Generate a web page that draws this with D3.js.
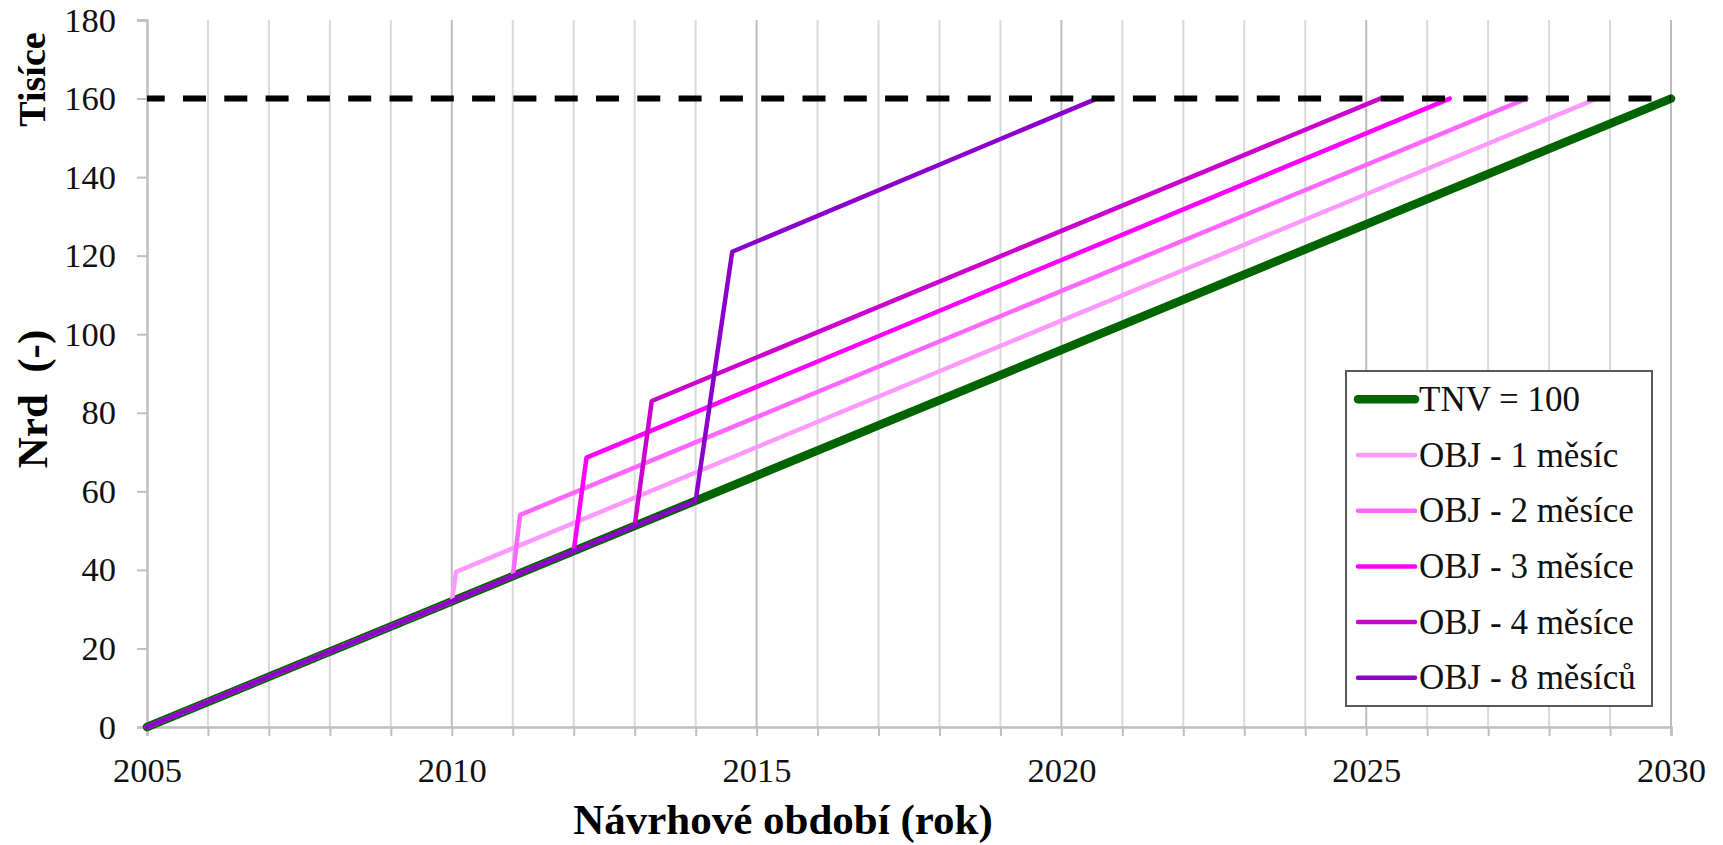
<!DOCTYPE html>
<html>
<head>
<meta charset="utf-8">
<script src="https://cdn.jsdelivr.net/npm/d3@7"></script>
<style>
  html, body { margin: 0; padding: 0; background: #fff; }
  svg { display: block; font-family: "Liberation Serif", "Times New Roman", serif; }
</style>
</head>
<body>
<svg id="chart" width="1723" height="845"></svg>
<script>
// Design-period cumulative counts (thousands), year vs. value.
const yearTicks = d3.range(2005, 2031);
const yearLabels = [2005, 2010, 2015, 2020, 2025, 2030];
const valueTicks = [0, 20, 40, 60, 80, 100, 120, 140, 160, 180];
const limitValue = 160;

const seriesNames = ["TNV = 100", "OBJ - 1 měsíc", "OBJ - 2 měsíce", "OBJ - 3 měsíce", "OBJ - 4 měsíce", "OBJ - 8 měsíců"];
const seriesColors = ["#006400", "#ff99ff", "#ff66ff", "#ff00ff", "#cc00cc", "#8c00cc"];
const seriesWidths = [8.5, 4.5, 4.5, 4.5, 4.5, 4.5];

const tnv  = [[2005, 0], [2030, 160]];
const obj1 = [[2005, 0], [2010, 32.0], [2010.07, 39.5], [2028.78, 160]];
const obj2 = [[2005, 0], [2011, 38.4], [2011.12, 54.0], [2027.63, 160]];
const obj3 = [[2005, 0], [2012, 44.8], [2012.21, 68.6], [2026.37, 160]];
const obj4 = [[2005, 0], [2013, 51.2], [2013.28, 83.0], [2025.23, 160]];
const obj8 = [[2005, 0], [2014, 57.6], [2014.60, 121.0], [2020.58, 160]];
const seriesData = [tnv, obj1, obj2, obj3, obj4, obj8];

const svg = d3.select("#chart");
const x = d3.scaleLinear().domain([2005, 2030]).range([147, 1671]);
const y = d3.scaleLinear().domain([0, 180]).range([727, 20]);

// vertical year gridlines
svg.append("g").selectAll("line")
  .data(yearTicks.slice(1))
  .join("line")
  .attr("x1", d => x(d)).attr("x2", d => x(d))
  .attr("y1", y(180)).attr("y2", y(0))
  .attr("stroke", d => d % 5 === 0 ? "#bdbdbd" : "#d9d9d9")
  .attr("stroke-width", 2);

// x axis
const xAxis = svg.append("g")
  .attr("transform", `translate(0,${y(0)})`)
  .call(d3.axisBottom(x).tickValues(yearTicks).tickSize(9).tickPadding(21.5)
    .tickFormat(d => yearLabels.includes(d) ? String(d) : ""));
xAxis.select(".domain").attr("stroke", "#bfbfbf").attr("stroke-width", 2.5);
xAxis.selectAll(".tick line").attr("stroke", "#bfbfbf").attr("stroke-width", 2);
xAxis.selectAll(".tick text").attr("font-size", 34.5).attr("fill", "#111")
  .attr("font-family", "Liberation Serif");

// y axis
const yAxis = svg.append("g")
  .attr("transform", `translate(${x(2005)},0)`)
  .call(d3.axisLeft(y).tickValues(valueTicks).tickSize(10).tickPadding(21).tickFormat(d => String(d)));
yAxis.select(".domain").attr("stroke", "#bfbfbf").attr("stroke-width", 2.5);
yAxis.selectAll(".tick line").attr("stroke", "#bfbfbf").attr("stroke-width", 2);
yAxis.selectAll(".tick text").attr("font-size", 34.5).attr("fill", "#111")
  .attr("font-family", "Liberation Serif");

// series lines
const line = d3.line().x(d => x(d[0])).y(d => y(d[1]));
svg.append("g").selectAll("path")
  .data(seriesData)
  .join("path")
  .attr("d", line)
  .attr("fill", "none")
  .attr("stroke", (d, i) => seriesColors[i])
  .attr("stroke-width", (d, i) => seriesWidths[i])
  .attr("stroke-linejoin", "round")
  .attr("stroke-linecap", "round");

// limit line
svg.append("line")
  .attr("x1", x(2005)).attr("x2", x(2030))
  .attr("y1", y(limitValue)).attr("y2", y(limitValue))
  .attr("stroke", "#000")
  .attr("stroke-width", 6)
  .attr("stroke-dasharray", "23 18.3")
  .attr("stroke-dashoffset", 5.3);

// axis titles
svg.append("text")
  .attr("x", 783).attr("y", 834)
  .attr("text-anchor", "middle")
  .attr("font-size", 43).attr("font-weight", "bold")
  .text("Návrhové období (rok)");

svg.append("text")
  .attr("transform", "translate(47,399) rotate(-90)")
  .attr("text-anchor", "middle")
  .attr("font-size", 43).attr("font-weight", "bold")
  .style("white-space", "pre")
  .text("Nrd  (-)");

svg.append("text")
  .attr("transform", "translate(45,79.5) rotate(-90)")
  .attr("text-anchor", "middle")
  .attr("font-size", 38).attr("font-weight", "bold")
  .text("Tisíce");

// legend
const legend = svg.append("g");
legend.append("rect")
  .attr("x", 1346).attr("y", 371).attr("width", 306).attr("height", 335)
  .attr("fill", "#fff").attr("stroke", "#595959").attr("stroke-width", 2);
const rowStep = 55.7, rowY0 = 399.3;
const rows = legend.selectAll("g.row")
  .data(seriesNames)
  .join("g").attr("class", "row")
  .attr("transform", (d, i) => `translate(0,${rowY0 + i * rowStep})`);
rows.append("line")
  .attr("x1", 1358).attr("x2", 1415)
  .attr("stroke", (d, i) => seriesColors[i])
  .attr("stroke-width", (d, i) => seriesWidths[i])
  .attr("stroke-linecap", "round");
rows.append("text")
  .attr("x", 1419).attr("y", 11.5)
  .attr("font-size", 35).attr("fill", "#111")
  .text(d => d);
</script>
</body>
</html>
